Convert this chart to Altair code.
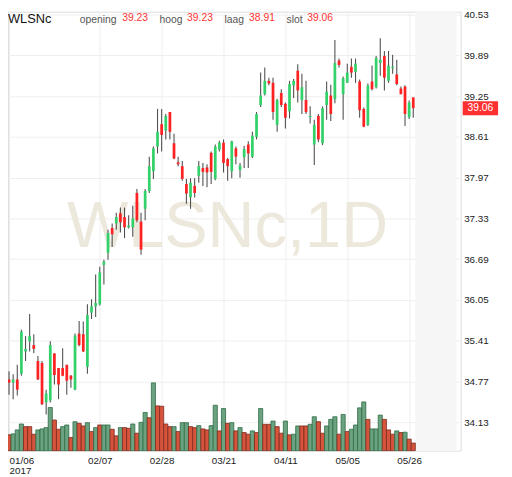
import altair as alt
import pandas as pd

# ---- data (trading days 2017-01-06 .. 2017-05-29) ----
opens = [34.80, 34.75, 34.80, 34.89, 35.24, 35.40, 35.34, 35.09, 35.06, 34.44,
         34.47, 35.21, 34.98, 34.98, 35.03, 34.86, 34.64, 35.52, 35.51, 35.00,
         35.85, 35.95, 35.98, 36.60, 36.79, 37.18, 37.25, 37.41, 37.35, 37.19,
         37.19, 37.73, 37.28, 37.48, 37.76, 38.07, 38.46, 38.81, 38.71, 39.00,
         38.51, 38.21, 38.15, 37.87, 37.66, 37.84, 38.00, 38.12, 38.13, 38.36,
         37.95, 38.41, 38.52, 38.26, 38.07, 38.43, 38.09, 38.29, 38.49, 38.30,
         38.61, 39.11, 39.28, 39.49, 39.46, 38.80, 39.30, 39.13, 39.01, 39.42,
         39.65, 39.19, 39.19, 38.92, 38.49, 38.94, 38.51, 39.11, 39.26, 39.20,
         39.81, 39.28, 39.46, 39.71, 39.63, 39.48, 39.05, 38.80, 39.48, 39.39,
         39.77, 39.88, 39.49, 39.69, 39.59, 39.37, 39.40, 38.92, 39.23]
highs = [34.93, 34.88, 35.03, 35.58, 35.48, 35.83, 35.51, 35.17, 35.09, 34.64,
         35.40, 35.21, 34.98, 35.29, 35.03, 34.87, 35.52, 35.72, 35.71, 35.98,
         36.06, 36.45, 36.57, 36.68, 37.15, 37.25, 37.42, 37.50, 37.50, 37.38,
         37.53, 37.79, 37.42, 37.79, 38.30, 38.46, 39.05, 39.05, 38.97, 39.00,
         38.66, 38.30, 38.23, 37.95, 37.96, 37.96, 38.23, 38.20, 38.18, 38.38,
         38.49, 38.55, 38.57, 38.28, 38.55, 38.46, 38.20, 38.47, 38.54, 38.69,
         39.00, 39.62, 39.70, 39.54, 39.54, 39.21, 39.36, 39.15, 39.49, 39.52,
         39.75, 39.60, 39.49, 39.09, 38.88, 38.97, 39.09, 39.48, 39.43, 40.13,
         39.84, 39.56, 39.76, 39.84, 39.84, 39.51, 39.07, 39.45, 39.73, 39.88,
         40.16, 39.96, 39.96, 39.90, 39.82, 39.40, 39.42, 39.18, 39.23]
lows = [34.56, 34.49, 34.55, 34.86, 35.09, 35.24, 35.21, 34.79, 34.40, 34.25,
        34.44, 34.72, 34.49, 34.85, 34.56, 34.67, 34.63, 35.32, 35.23, 34.89,
        35.75, 35.78, 35.96, 36.29, 36.68, 36.88, 37.15, 37.11, 37.02, 37.17,
        37.04, 37.27, 36.76, 37.30, 37.73, 37.95, 38.35, 38.38, 38.57, 38.57,
        38.26, 38.15, 37.92, 37.56, 37.48, 37.66, 37.89, 37.84, 37.82, 37.87,
        37.93, 38.38, 38.05, 37.92, 37.96, 38.18, 37.97, 38.12, 38.12, 38.28,
        38.57, 39.08, 39.26, 39.42, 38.88, 38.69, 39.08, 38.74, 38.90, 39.22,
        39.15, 38.97, 38.97, 38.82, 38.17, 38.53, 38.48, 38.88, 38.86, 39.14,
        39.70, 38.88, 39.46, 39.54, 39.46, 38.91, 38.76, 38.78, 39.34, 39.37,
        39.57, 39.34, 39.46, 39.60, 39.42, 39.28, 38.78, 38.89, 38.91]
closes = [34.75, 34.80, 34.64, 35.55, 35.28, 35.48, 35.28, 34.80, 34.41, 34.58,
          35.34, 34.87, 34.72, 34.86, 34.78, 34.80, 35.49, 35.34, 35.24, 35.81,
          35.95, 36.00, 36.48, 36.65, 37.10, 37.08, 37.35, 37.27, 37.19, 37.22,
          37.33, 37.30, 36.84, 37.76, 38.15, 38.43, 38.69, 38.64, 38.94, 38.69,
          38.27, 38.18, 37.95, 37.72, 37.89, 37.73, 38.15, 38.06, 38.05, 38.06,
          38.46, 38.52, 38.20, 38.15, 38.54, 38.30, 38.16, 38.42, 38.35, 38.63,
          38.97, 39.26, 39.49, 39.45, 39.00, 39.19, 39.11, 38.91, 39.44, 39.49,
          39.34, 39.39, 39.00, 38.94, 38.80, 38.57, 39.06, 39.32, 38.97, 39.77,
          39.74, 39.53, 39.62, 39.62, 39.76, 39.03, 38.77, 39.42, 39.36, 39.85,
          39.82, 39.54, 39.73, 39.71, 39.44, 39.28, 38.97, 39.15, 39.06]
volumes = [480, 510, 630, 810, 730, 730, 500, 630, 660, 700,
           1310, 930, 650, 730, 780, 400, 880, 830, 750, 850,
           580, 700, 780, 780, 780, 650, 450, 700, 700, 680,
           810, 530, 860, 1160, 1000, 2060, 1360, 1350, 810, 730,
           730, 580, 850, 850, 730, 700, 760, 660, 630, 760,
           1380, 600, 1280, 830, 850, 600, 700, 550, 500, 600,
           550, 1280, 800, 800, 900, 730, 530, 900, 480, 500,
           750, 750, 750, 800, 1030, 880, 530, 750, 950, 1030,
           500, 1100, 580, 650, 780, 1300, 1480, 950, 660, 660,
           1080, 950, 630, 500, 600, 550, 560, 350, 230]
volume_dir = ["R", "G", "G", "G", "R", "R", "R", "G", "G", "G",
              "G", "R", "R", "G", "G", "R", "G", "R", "R", "G",
              "R", "G", "R", "G", "G", "R", "R", "G", "R", "R",
              "G", "R", "G", "G", "R", "G", "R", "R", "R", "R",
              "G", "R", "G", "G", "R", "R", "G", "R", "R", "G",
              "G", "R", "G", "R", "G", "R", "G", "R", "R", "G",
              "R", "G", "R", "R", "G", "R", "R", "G", "R", "G",
              "G", "R", "R", "G", "G", "R", "R", "G", "G", "G",
              "R", "G", "R", "G", "G", "G", "G", "R", "G", "G",
              "G", "R", "R", "R", "G", "R", "G", "R", "R"]
tick_index = [0, 22, 37, 52, 67, 82, 97]
tick_labels = ["01/06", "02/07", "02/28", "03/21", "04/11", "05/05", "05/26"]
year_label = "2017"
price_ticks = [34.13, 34.77, 35.41, 36.05, 36.69, 37.33, 37.97, 38.61, 39.25, 39.89, 40.53]
symbol = "WLSNc"
interval = "1D"
future_bars = 10

n = len(closes)
df = pd.DataFrame({
    "i": list(range(n)),
    "open": opens, "high": highs, "low": lows, "close": closes,
    "volume": volumes, "vdir": volume_dir,
})
df["dir"] = ["G" if c >= o else "R" for o, c in zip(opens, closes)]
last = df.tail(1)

W, H = 460, 446
FONT = "Liberation Sans"
GREEN_BODY, RED_BODY = "#33d16a", "#ff2222"
x_scale = alt.Scale(domain=[-0.25, 109.5], nice=False, zero=False)
p_scale = alt.Scale(domain=[33.682, 40.576], nice=False, zero=False)
v_scale = alt.Scale(domain=[0, 13340], nice=False)

# label expression for x axis built from tick lists
expr = "''"
for idx, lab in reversed(list(zip(tick_index, tick_labels))):
    val = f"['{lab}','{year_label}']" if idx == tick_index[0] else f"'{lab}'"
    expr = f"datum.value == {idx} ? {val} : {expr}"

x_axis = alt.Axis(values=tick_index, labelExpr=expr, grid=True, gridColor="#efefef",
                  ticks=False, domain=False, labelFontSize=10, labelColor="#222",
                  labelPadding=5, labelFlush=4, labelOverlap=False, labelLineHeight=10.5,
                  labelFont=FONT, title=None)
y_axis = alt.Axis(values=price_ticks, orient="right", grid=True, gridColor="#efefef",
                  ticks=False, domain=False, labelFontSize=10, labelColor="#222",
                  labelPadding=3, labelFont=FONT, labelOverlap=False,
                  format=".2f", title=None)


def X(field):
    return alt.X(field, type="quantitative", scale=x_scale, axis=x_axis)


base = alt.Chart(df)

# future zone after last bar
future = alt.Chart(pd.DataFrame({"a": [n - 0.5], "b": [n - 0.5 + future_bars]})).mark_rect(
    color="#f6f6f6").encode(
    x=X("a"), x2="b:Q",
    y=alt.value(0), y2=alt.value(H))

watermark = alt.Chart(pd.DataFrame({"t": [f"{symbol},{interval}"]})).mark_text(
    font=FONT, fontSize=66, color="#ece8dc", align="center", baseline="alphabetic").encode(
    text="t:N", x=alt.value(223), y=alt.value(239))

vol = base.transform_calculate(x0="datum.i - 0.5", x1="datum.i + 0.5").mark_rect(
    strokeWidth=0.8).encode(
    x=X("x0"), x2="x1:Q",
    y=alt.Y("volume:Q", scale=v_scale, axis=None), y2=alt.datum(0),
    fill=alt.Color("vdir:N", scale=alt.Scale(domain=["G", "R"], range=["#6ba380", "#d6533c"]), legend=None),
    stroke=alt.Stroke("vdir:N", scale=alt.Scale(domain=["G", "R"], range=["#2f6b46", "#7c2a1d"]), legend=None))

wicks = base.mark_rule(color="#505050", strokeWidth=1.1).encode(
    x=X("i"),
    y=alt.Y("low:Q", scale=p_scale, axis=y_axis), y2="high:Q")

bodies = base.transform_calculate(x0="datum.i - 0.33", x1="datum.i + 0.33").mark_rect().encode(
    x=X("x0"), x2="x1:Q",
    y=alt.Y("open:Q", scale=p_scale, axis=None), y2="close:Q",
    color=alt.Color("dir:N", scale=alt.Scale(domain=["G", "R"], range=[GREEN_BODY, RED_BODY]), legend=None))

box = alt.Chart(last).mark_rect(color="#ff3030", yOffset=-7, y2Offset=7).encode(
    x=alt.value(462), x2=alt.value(498),
    y=alt.Y("close:Q", scale=p_scale, axis=None), y2="close:Q")
box_text = alt.Chart(last).mark_text(color="white", fontSize=10.5, font=FONT,
                                     align="center", baseline="middle").encode(
    x=alt.value(480), y=alt.Y("close:Q", scale=p_scale, axis=None),
    text=alt.Text("close:Q", format=".2f"))

# header
header_items = [
    (symbol, 0, 11, 13, "#111111"),
    ("opening", 73, 11, 10.5, "#555555"), (f"{opens[-1]:.2f}", 116, 9.5, 10.5, "#ff3333"),
    ("hoog", 154, 11, 10.5, "#555555"), (f"{highs[-1]:.2f}", 182, 9.5, 10.5, "#ff3333"),
    ("laag", 220, 11, 10.5, "#555555"), (f"{lows[-1]:.2f}", 245, 9.5, 10.5, "#ff3333"),
    ("slot", 283, 11, 10.5, "#555555"), (f"{closes[-1]:.2f}", 304, 9.5, 10.5, "#ff3333"),
]
header_layers = []
for txt, hx, hy, fs, col in header_items:
    header_layers.append(
        alt.Chart(pd.DataFrame({"t": [txt]})).mark_text(
            font=FONT, fontSize=fs, color=col, align="left", baseline="alphabetic").encode(
            text="t:N", x=alt.value(hx), y=alt.value(hy)))

chart = alt.layer(future, watermark, vol, wicks, bodies, box, box_text, *header_layers).resolve_scale(
    y="independent").properties(
    width=W, height=H,
    padding={"left": 0, "top": 0, "right": 44, "bottom": 23},
    autosize=alt.AutoSizeParams(type="none"),
    background="white",
).configure_view(stroke=None).configure(font=FONT)

chart.save("out.html", embed_options={"renderer": "svg", "actions": False})
